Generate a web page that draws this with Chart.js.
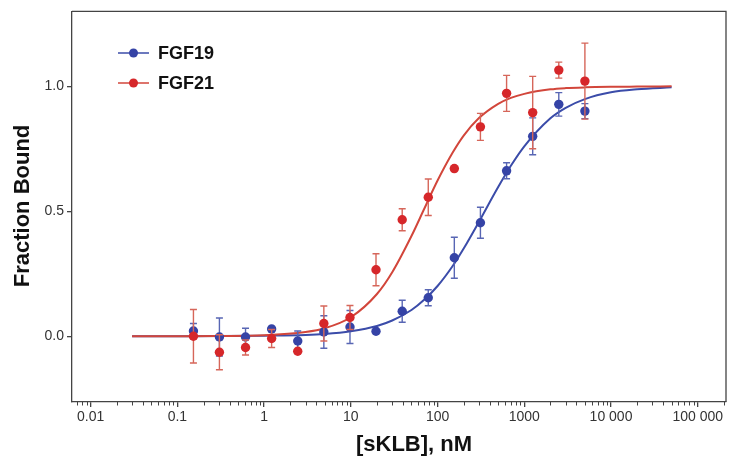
<!DOCTYPE html>
<html>
<head>
<meta charset="utf-8">
<script src="https://cdn.jsdelivr.net/npm/chart.js@4.4.1/dist/chart.umd.min.js"></script>
<style>
  html, body { margin: 0; padding: 0; background: #fff; }
  canvas { display: block; }
</style>
</head>
<body>
<canvas id="myChart" width="735" height="459"></canvas>
<script>
// concentrations (nM), 2-fold dilution series
const conc = [0.153, 0.305, 0.61, 1.22, 2.44, 4.88, 9.77, 19.5, 39.1, 78.1, 156, 312, 625, 1250, 2500, 5000];

const fgf19 = [0.021, -0.003, -0.003, 0.029, -0.019, 0.017, 0.037, 0.020, 0.100, 0.154, 0.314, 0.454, 0.662, 0.800, 0.928, 0.901];
const fgf19Err = [0.030, 0.076, 0.035, 0.010, 0.040, 0.065, 0.066, 0, 0.044, 0.032, 0.082, 0.062, 0.032, 0.074, 0.047, 0.030];
const fgf21 = [0.000, -0.064, -0.045, -0.009, -0.060, 0.051, 0.075, 0.266, 0.466, 0.556, 0.671, 0.838, 0.972, 0.895, 1.065, 1.021];
const fgf21Err = [0.107, 0.070, 0.030, 0.036, 0, 0.070, 0.048, 0.064, 0.044, 0.073, 0, 0.054, 0.072, 0.145, 0.032, 0.152];

// fitted curves
const fitX = [0.03, 0.1, 0.3, 1, 3, 5, 10, 20, 30, 50, 70, 100, 150, 200, 300, 500, 700, 1000, 2000, 3000, 5000, 10000, 20000, 50000];
const fgf19Fit = [0, 0.0001, 0.0004, 0.002, 0.005, 0.009, 0.020, 0.041, 0.063, 0.105, 0.146, 0.201, 0.282, 0.351, 0.458, 0.597, 0.682, 0.760, 0.872, 0.914, 0.949, 0.976, 0.988, 0.996];
const fgf21Fit = [0, 0.0002, 0.0009, 0.004, 0.017, 0.032, 0.076, 0.169, 0.256, 0.401, 0.509, 0.623, 0.736, 0.803, 0.873, 0.930, 0.954, 0.970, 0.988, 0.993, 0.996, 0.998, 0.999, 1.000];

// axis ticks
const xTickValues = [0.01, 0.1, 1, 10, 100, 1000, 10000, 100000];
const xTickLabels = ['0.01', '0.1', '1', '10', '100', '1000', '10 000', '100 000'];
const yTickValues = [0, 0.5, 1];
const yTickLabels = ['0.0', '0.5', '1.0'];

const FONT = '"Liberation Sans", Arial, sans-serif';
const AXIS = '#444';
const BLUE = '#3543a6', BLUE_LINE = '#3b4ca9', BLUE_ERR = '#5866b4';
const RED = '#d6272a', RED_LINE = '#d2463b', RED_ERR = '#d6665a';

function pts(xs, ys) {
  return xs.map((x, i) => ({ x: x, y: ys[i] }));
}

// error bars with caps, drawn just before the points of a dataset
const errorBars = {
  id: 'errorBars',
  beforeDatasetDraw(chart, args) {
    const ds = chart.data.datasets[args.index];
    if (!ds.errors) return;
    const y = chart.scales.y;
    const ctx = chart.ctx;
    ctx.save();
    ctx.strokeStyle = ds.errorColor;
    ctx.lineWidth = 1.4;
    args.meta.data.forEach((pt, i) => {
      const e = ds.errors[i];
      if (!e) return;
      const v = ds.data[i].y;
      const top = y.getPixelForValue(v + e);
      const bot = y.getPixelForValue(v - e);
      ctx.beginPath();
      ctx.moveTo(pt.x, top); ctx.lineTo(pt.x, bot);
      ctx.moveTo(pt.x - 3.5, top); ctx.lineTo(pt.x + 3.5, top);
      ctx.moveTo(pt.x - 3.5, bot); ctx.lineTo(pt.x + 3.5, bot);
      ctx.stroke();
    });
    ctx.restore();
  }
};

// box, minor log ticks, axis titles and legend
const decor = {
  id: 'decor',
  afterDraw(chart) {
    const ctx = chart.ctx;
    const a = chart.chartArea;
    const xs = chart.scales.x;
    ctx.save();
    ctx.strokeStyle = AXIS;
    ctx.lineWidth = 1.3;
    ctx.beginPath();
    ctx.moveTo(a.left, a.top); ctx.lineTo(a.right, a.top); ctx.lineTo(a.right, a.bottom);
    ctx.stroke();

    // minor ticks
    ctx.lineWidth = 1;
    ctx.beginPath();
    for (let e = -3; e <= 5; e++) {
      for (let m = 2; m <= 9; m++) {
        const v = m * Math.pow(10, e);
        if (v < xs.min || v > xs.max) continue;
        const px = Math.round(xs.getPixelForValue(v)) + 0.5;
        ctx.moveTo(px, a.bottom); ctx.lineTo(px, a.bottom + 3.5);
      }
    }
    ctx.stroke();

    // axis titles
    ctx.fillStyle = '#111';
    ctx.font = 'bold 22px ' + FONT;
    ctx.textAlign = 'center';
    ctx.textBaseline = 'middle';
    ctx.fillText('[sKLB], nM', 414, 445);
    ctx.translate(23, 206);
    ctx.rotate(-Math.PI / 2);
    ctx.fillText('Fraction Bound', 0, 0);
    ctx.restore();

    // legend
    const items = [
      { label: chart.data.datasets[1].label, line: BLUE_LINE, dot: BLUE, y: 53 },
      { label: chart.data.datasets[0].label, line: RED_LINE, dot: RED, y: 83 }
    ];
    ctx.save();
    items.forEach(it => {
      ctx.strokeStyle = it.line;
      ctx.lineWidth = 1.5;
      ctx.beginPath();
      ctx.moveTo(118, it.y); ctx.lineTo(149, it.y);
      ctx.stroke();
      ctx.fillStyle = it.dot;
      ctx.beginPath();
      ctx.arc(133.5, it.y, 4.5, 0, Math.PI * 2);
      ctx.fill();
      ctx.fillStyle = '#111';
      ctx.font = 'bold 18px ' + FONT;
      ctx.textAlign = 'left';
      ctx.textBaseline = 'middle';
      ctx.fillText(it.label, 158, it.y + 1);
    });
    ctx.restore();
  }
};

const ctx = document.getElementById('myChart');

new Chart(ctx, {
  type: 'scatter',
  data: {
    datasets: [
      {
        label: 'FGF21',
        data: pts(conc, fgf21),
        errors: fgf21Err,
        errorColor: RED_ERR,
        backgroundColor: RED,
        borderWidth: 0,
        pointRadius: 4.7,
        order: 0
      },
      {
        label: 'FGF19',
        data: pts(conc, fgf19),
        errors: fgf19Err,
        errorColor: BLUE_ERR,
        backgroundColor: BLUE,
        borderWidth: 0,
        pointRadius: 4.7,
        order: 1
      },
      {
        label: 'FGF21 fit',
        data: pts(fitX, fgf21Fit),
        showLine: true,
        borderColor: RED_LINE,
        borderWidth: 2,
        pointRadius: 0,
        cubicInterpolationMode: 'monotone',
        order: 2
      },
      {
        label: 'FGF19 fit',
        data: pts(fitX, fgf19Fit),
        showLine: true,
        borderColor: BLUE_LINE,
        borderWidth: 2,
        pointRadius: 0,
        cubicInterpolationMode: 'monotone',
        order: 3
      }
    ]
  },
  options: {
    responsive: false,
    animation: false,
    layout: { padding: { left: 0, right: 9, top: 10, bottom: 0 } },
    scales: {
      x: {
        type: 'logarithmic',
        min: 0.006085,
        max: 211900,
        afterFit: s => { s.height = 57; },
        afterBuildTicks: s => { s.ticks = xTickValues.map(v => ({ value: v })); },
        grid: { drawOnChartArea: false, drawTicks: true, tickLength: 5, color: AXIS, lineWidth: 1.3 },
        border: { display: true, color: AXIS, width: 1.3 },
        ticks: {
          autoSkip: false,
          maxRotation: 0,
          padding: 2,
          color: '#333',
          font: { family: FONT, size: 14 },
          callback: (v, i) => xTickLabels[i]
        },
        title: { display: false }
      },
      y: {
        min: -0.2633,
        max: 1.30,
        afterFit: s => { s.width = 72; },
        afterBuildTicks: s => { s.ticks = yTickValues.map(v => ({ value: v })); },
        grid: { drawOnChartArea: false, drawTicks: true, tickLength: 5, color: AXIS, lineWidth: 1.3 },
        border: { display: true, color: AXIS, width: 1.3 },
        ticks: {
          padding: 3,
          color: '#333',
          font: { family: FONT, size: 14 },
          callback: (v, i) => yTickLabels[i]
        },
        title: { display: false }
      }
    },
    plugins: {
      legend: { display: false },
      tooltip: { enabled: false }
    }
  },
  plugins: [errorBars, decor]
});
</script>
</body>
</html>
